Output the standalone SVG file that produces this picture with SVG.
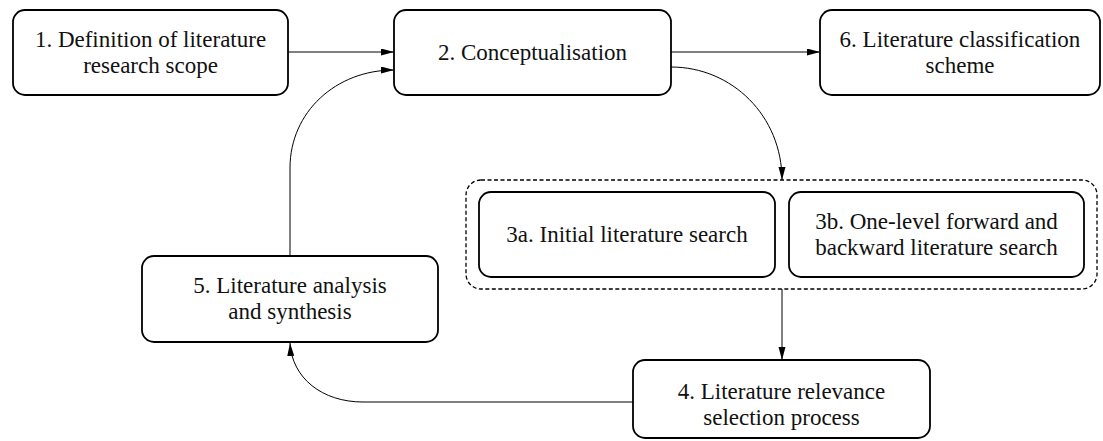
<svg xmlns="http://www.w3.org/2000/svg" width="1103" height="441" viewBox="0 0 1103 441">
<style>
.box{fill:#fff;stroke:#000;stroke-width:1.8}
.grp{fill:none;stroke:#000;stroke-width:1.3;stroke-dasharray:4 2.5}
.t{font-family:'Liberation Serif','Noto Serif','Tinos','FreeSerif','Nimbus Roman','DejaVu Serif',serif;font-size:23px;fill:#111;text-anchor:middle}
.c{fill:none;stroke:#000;stroke-width:1}
</style>
<defs>
<marker id="ah" markerUnits="userSpaceOnUse" markerWidth="14" markerHeight="8" refX="13" refY="3.5" orient="auto">
<path d="M0,0 L13,3.5 L0,7 Z" fill="#000"/>
</marker>
</defs>
<rect width="1103" height="441" fill="#fff"/>
<g id="connectors">
<path class="c" d="M288,52 L394,52" marker-end="url(#ah)"/>
<path class="c" d="M671,52 L820,52" marker-end="url(#ah)"/>
<path class="c" d="M290,256 L290,168 C290,112 336,70 394,70" marker-end="url(#ah)"/>
<path class="c" d="M671,67 C732,67 782,116 782,180" marker-end="url(#ah)"/>
<path class="c" d="M782,289 L782,360" marker-end="url(#ah)"/>
<path class="c" d="M633,402 L363,402 C322,402 292,378 290,343" marker-end="url(#ah)"/>
</g>
<g id="node1">
<rect class="box" x="13" y="10" width="275" height="85" rx="12"/>
<text class="t" x="150.5" y="47">1. Definition of literature</text>
<text class="t" x="150.5" y="73">research scope</text>
</g>
<g id="node2">
<rect class="box" x="394" y="10" width="277" height="85" rx="12"/>
<text class="t" x="532.5" y="60">2. Conceptualisation</text>
</g>
<g id="node6">
<rect class="box" x="820" y="10" width="280" height="85" rx="12"/>
<text class="t" x="960" y="47">6. Literature classification</text>
<text class="t" x="960" y="73">scheme</text>
</g>
<g id="node3">
<rect class="grp" x="466" y="180" width="631" height="109" rx="15"/>
<g id="node3a">
<rect class="box" x="479" y="192" width="296" height="85" rx="12"/>
<text class="t" x="627" y="242">3a. Initial literature search</text>
</g>
<g id="node3b">
<rect class="box" x="789" y="192" width="295" height="85" rx="12"/>
<text class="t" x="936.5" y="229">3b. One-level forward and</text>
<text class="t" x="936.5" y="255">backward literature search</text>
</g>
</g>
<g id="node4">
<rect class="box" x="633" y="360" width="297" height="78" rx="12"/>
<text class="t" x="781.5" y="399">4. Literature relevance</text>
<text class="t" x="781.5" y="425">selection process</text>
</g>
<g id="node5">
<rect class="box" x="142" y="256" width="296" height="86" rx="12"/>
<text class="t" x="290" y="293">5. Literature analysis</text>
<text class="t" x="290" y="319">and synthesis</text>
</g>
</svg>
